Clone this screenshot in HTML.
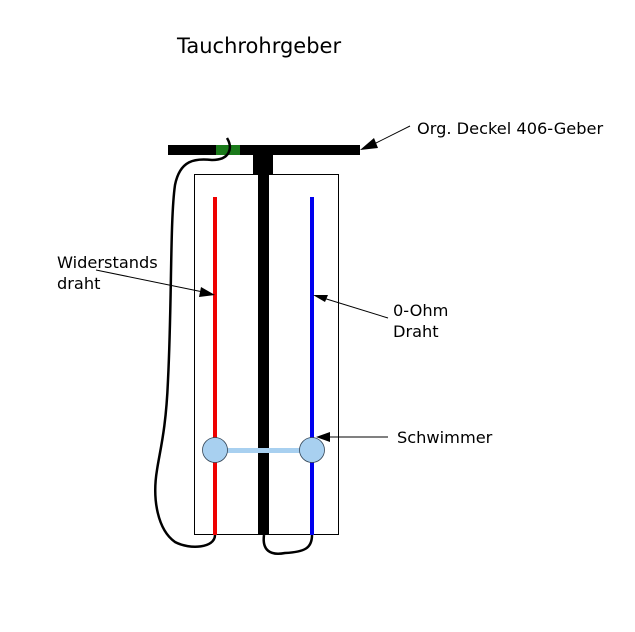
<!DOCTYPE html>
<html><head><style>body{margin:0;background:#fff}svg{display:block}</style></head><body>
<svg width="635" height="632" xmlns="http://www.w3.org/2000/svg" font-family="DejaVu Sans, sans-serif">
<rect width="635" height="632" fill="#fff"/>
<text x="177" y="53" font-size="21">Tauchrohrgeber</text>
<rect x="194.5" y="174.5" width="144" height="360" fill="#fff" stroke="#000" stroke-width="1"/>
<rect x="168" y="145" width="192" height="10" fill="#000"/>
<rect x="216" y="145" width="24" height="10" fill="#1a7a1a"/>
<rect x="253" y="155" width="20" height="20" fill="#000"/>
<rect x="258" y="155" width="11" height="380" fill="#000"/>
<rect x="213" y="197" width="4" height="338" fill="#e00"/>
<rect x="310" y="197" width="4" height="338" fill="#00e"/>
<rect x="215" y="448" width="97" height="5" fill="#a8d0f0"/>
<circle cx="215" cy="450" r="12.5" fill="#a8d0f0" stroke="#345" stroke-width="0.8"/>
<circle cx="312" cy="450" r="12.5" fill="#a8d0f0" stroke="#345" stroke-width="0.8"/>
<path d="M227,138 C233,148 230,160 212,160 C195,158 180,160 175,185 C170,220 172,300 168,380 C166,430 160,450 157,470 C152,500 158,530 175,542 C190,550 215,548 215,535" fill="none" stroke="#000" stroke-width="2.5"/>
<path d="M264,535 C262,550 270,556 285,553 C305,552 312,548 312,535" fill="none" stroke="#000" stroke-width="2.5"/>
<g stroke="#000" stroke-width="1">
<line x1="410" y1="126" x2="370" y2="146"/>
<line x1="96" y1="270" x2="208" y2="293"/>
<line x1="388" y1="318" x2="320" y2="297"/>
<line x1="388" y1="437" x2="326" y2="437"/>
</g>
<g fill="#000">
<polygon points="360,150 374,138 378,148"/>
<polygon points="215,295 201,287 199,297"/>
<polygon points="313,295 328,295 325,302"/>
<polygon points="316,437 330,432 330,442"/>
</g>
<g font-size="16.2">
<text x="417" y="134">Org. Deckel 406-Geber</text>
<text x="57" y="268">Widerstands</text>
<text x="57" y="289">draht</text>
<text x="393" y="316">0-Ohm</text>
<text x="393" y="337">Draht</text>
<text x="397" y="443">Schwimmer</text>
</g>
</svg>
</body></html>
